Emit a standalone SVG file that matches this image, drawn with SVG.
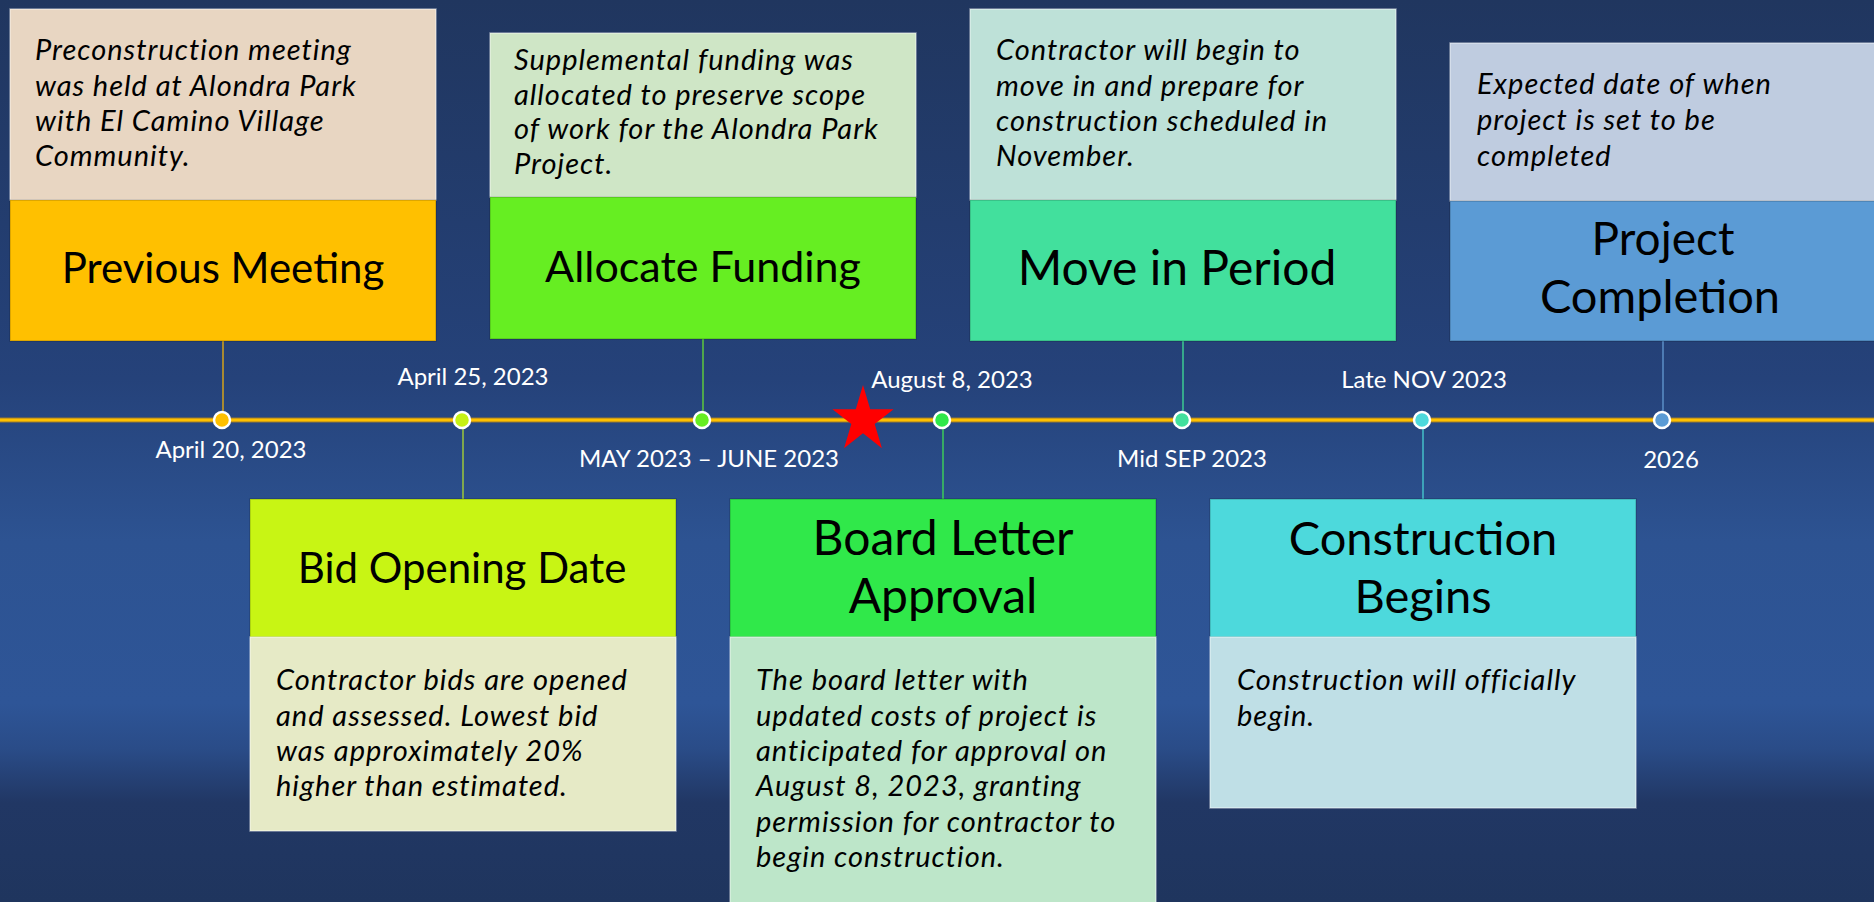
<svg xmlns="http://www.w3.org/2000/svg" width="1874" height="902" viewBox="0 0 1874 902">
<defs>
<linearGradient id="bg" x1="0" y1="0" x2="0" y2="1">
<stop offset="0" stop-color="#20365F"/>
<stop offset="0.42" stop-color="#25427A"/>
<stop offset="0.6" stop-color="#2D5392"/>
<stop offset="0.78" stop-color="#2E5597"/>
<stop offset="0.83" stop-color="#2A4C88"/>
<stop offset="0.89" stop-color="#213764"/>
<stop offset="1" stop-color="#1F355E"/>
</linearGradient>
<style>
.desc{font-family:Lato,"Liberation Sans",sans-serif;font-style:italic;font-size:29px;letter-spacing:1px;fill:#000}
.title{font-family:Lato,"Liberation Sans",sans-serif;font-size:42px;fill:#000;text-anchor:middle}
.date{font-family:Lato,"Liberation Sans",sans-serif;font-size:24px;fill:#fff;text-anchor:middle}
.dbox{stroke:#ffffff;stroke-opacity:0.45;stroke-width:1.5}
.tbox{stroke:#000;stroke-opacity:0.18;stroke-width:1.5}
.dot{stroke:#fff;stroke-width:2.5}
.conn{stroke-width:1.5;fill:none}
</style>
</defs>
<rect x="0" y="0" width="1874" height="902" fill="url(#bg)"/>

<g id="timeline">
<line x1="0" y1="420" x2="1874" y2="420" stroke="#9C7A2C" stroke-width="5"/>
<line x1="0" y1="420" x2="1874" y2="420" stroke="#FFC000" stroke-width="3"/>
</g>

<g id="connectors">
<line class="conn" x1="223" y1="341" x2="223" y2="412" stroke="#D4A21A"/>
<line class="conn" x1="463" y1="428" x2="463" y2="499" stroke="#9CC73A"/>
<line class="conn" x1="703" y1="339" x2="703" y2="412" stroke="#5EC83C"/>
<line class="conn" x1="943" y1="428" x2="943" y2="499" stroke="#3CCB5A"/>
<line class="conn" x1="1183" y1="341" x2="1183" y2="412" stroke="#3DCB92"/>
<line class="conn" x1="1423" y1="428" x2="1423" y2="499" stroke="#45BFC8"/>
<line class="conn" x1="1663" y1="341" x2="1663" y2="412" stroke="#5B8FC7"/>
</g>

<g id="dots">
<circle class="dot" cx="222" cy="420" r="8" fill="#FFC000"/>
<circle class="dot" cx="462" cy="420" r="8" fill="#C6F214"/>
<circle class="dot" cx="702" cy="420" r="8" fill="#66EE22"/>
<circle class="dot" cx="942" cy="420" r="8" fill="#2EE84A"/>
<circle class="dot" cx="1182" cy="420" r="8" fill="#42E09D"/>
<circle class="dot" cx="1422" cy="420" r="8" fill="#4DD9DC"/>
<circle class="dot" cx="1662" cy="420" r="8" fill="#5B9BD5"/>
</g>

<g id="star">
<polygon transform="translate(863,420) scale(1.06)" fill="#FF0000" points="0,-33 6.82,-10.19 28.87,-10.2 11.02,3.89 17.85,26.7 0,12.6 -17.85,26.7 -11.02,3.89 -28.87,-10.2 -6.82,-10.19"/>
</g>

<g id="labels">
<text class="date" x="231" y="458">April 20, 2023</text>
<text class="date" x="473" y="385">April 25, 2023</text>
<text class="date" x="709" y="467">MAY 2023 – JUNE 2023</text>
<text class="date" x="952" y="388">August 8, 2023</text>
<text class="date" x="1192" y="467">Mid SEP 2023</text>
<text class="date" x="1424" y="388">Late NOV 2023</text>
<text class="date" x="1671" y="468">2026</text>
</g>

<g id="previous-meeting">
<rect class="dbox" x="10" y="9" width="426" height="191" fill="#E8D6C2"/>
<rect class="tbox" x="10" y="200" width="426" height="141" fill="#FFC000"/>
<text class="desc" x="35" y="60">Preconstruction meeting</text>
<text class="desc" x="35" y="96">was held at Alondra Park</text>
<text class="desc" x="35" y="131">with El Camino Village</text>
<text class="desc" x="35" y="166">Community.</text>
<text class="title" x="223" y="283">Previous Meeting</text>
</g>

<g id="allocate-funding">
<rect class="dbox" x="490" y="33" width="426" height="164" fill="#CFE6C6"/>
<rect class="tbox" x="490" y="197" width="426" height="142" fill="#66EE22"/>
<text class="desc" x="514" y="70">Supplemental funding was</text>
<text class="desc" x="514" y="105">allocated to preserve scope</text>
<text class="desc" x="514" y="139">of work for the Alondra Park</text>
<text class="desc" x="514" y="174">Project.</text>
<text class="title" x="703" y="282" style="font-size:43px">Allocate Funding</text>
</g>

<g id="move-in-period">
<rect class="dbox" x="970" y="9" width="426" height="191" fill="#BEE1D8"/>
<rect class="tbox" x="970" y="200" width="426" height="141" fill="#42E09D"/>
<text class="desc" x="996" y="60">Contractor will begin to</text>
<text class="desc" x="996" y="96">move in and prepare for</text>
<text class="desc" x="996" y="131">construction scheduled in</text>
<text class="desc" x="996" y="166">November.</text>
<text class="title" x="1177" y="285" style="font-size:48px">Move in Period</text>
</g>

<g id="project-completion">
<rect class="dbox" x="1450" y="43" width="430" height="158" fill="#BFCCE0"/>
<rect class="tbox" x="1450" y="201" width="430" height="140" fill="#5B9BD5"/>
<text class="desc" x="1477" y="94">Expected date of when</text>
<text class="desc" x="1477" y="130">project is set to be</text>
<text class="desc" x="1477" y="166">completed</text>
<text class="title" x="1663" y="255" style="font-size:46px">Project</text>
<text class="title" x="1660" y="313" style="font-size:47px">Completion</text>
</g>

<g id="bid-opening-date">
<rect class="tbox" x="250" y="499" width="426" height="138" fill="#C8F514"/>
<rect class="dbox" x="250" y="637" width="426" height="194" fill="#E6EAC6"/>
<text class="title" x="462" y="583">Bid Opening Date</text>
<text class="desc" x="276" y="690">Contractor bids are opened</text>
<text class="desc" x="276" y="726">and assessed. Lowest bid</text>
<text class="desc" x="276" y="761">was approximately 20%</text>
<text class="desc" x="276" y="796">higher than estimated.</text>
</g>

<g id="board-letter-approval">
<rect class="tbox" x="730" y="499" width="426" height="138" fill="#30E84A"/>
<rect class="dbox" x="730" y="637" width="426" height="266" fill="#BDE6C9"/>
<text class="title" x="943" y="555" style="font-size:48px">Board Letter</text>
<text class="title" x="943" y="613" style="font-size:48px">Approval</text>
<text class="desc" x="756" y="690">The board letter with</text>
<text class="desc" x="756" y="726">updated costs of project is</text>
<text class="desc" x="756" y="761">anticipated for approval on</text>
<text class="desc" x="756" y="796">August 8, 2023, granting</text>
<text class="desc" x="756" y="832">permission for contractor to</text>
<text class="desc" x="756" y="867">begin construction.</text>
</g>

<g id="construction-begins">
<rect class="tbox" x="1210" y="499" width="426" height="138" fill="#4DD9DC"/>
<rect class="dbox" x="1210" y="637" width="426" height="171" fill="#BFDFE6"/>
<text class="title" x="1423" y="555" style="font-size:47px">Construction</text>
<text class="title" x="1423" y="613" style="font-size:47px">Begins</text>
<text class="desc" x="1237" y="690">Construction will officially</text>
<text class="desc" x="1237" y="726">begin.</text>
</g>
</svg>
